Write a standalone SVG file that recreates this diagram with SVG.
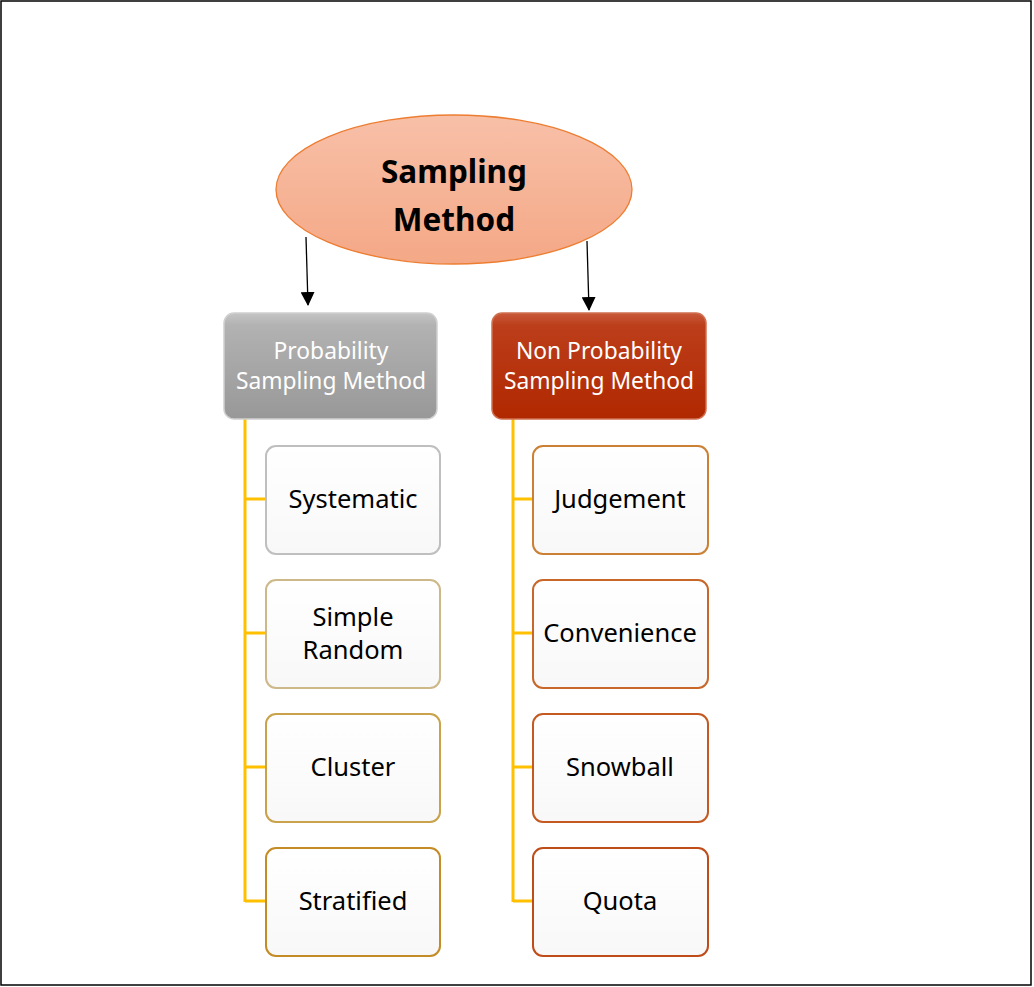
<svg xmlns="http://www.w3.org/2000/svg" width="1034" height="987" viewBox="0 0 1034 987">
<style>
.t{font-family:"Noto Sans","Open Sans","Liberation Sans",sans-serif;text-anchor:middle}
.h{font-size:31.5px;font-weight:bold;fill:#000}
.m{font-size:22.8px;fill:#fff}
.c{font-size:25.5px;fill:#000}
.conn{stroke:#FFC000;stroke-width:3;fill:none}
.arr{stroke:#000;stroke-width:1.3;fill:none}
.child{fill:url(#gW);stroke-width:2}
</style>
<defs>
<linearGradient id="gE" x1="0" y1="0" x2="0" y2="1"><stop offset="0" stop-color="#F8C0A8"/><stop offset="1" stop-color="#F4A886"/></linearGradient>
<linearGradient id="gG" x1="0" y1="0" x2="0" y2="1"><stop offset="0" stop-color="#C4C4C4"/><stop offset="0.12" stop-color="#B2B2B2"/><stop offset="1" stop-color="#989898"/></linearGradient>
<linearGradient id="gR" x1="0" y1="0" x2="0" y2="1"><stop offset="0" stop-color="#C85A3C"/><stop offset="0.12" stop-color="#BC3E1A"/><stop offset="1" stop-color="#B02800"/></linearGradient>
<linearGradient id="gW" x1="0" y1="0" x2="0" y2="1"><stop offset="0" stop-color="#FFFFFF"/><stop offset="1" stop-color="#F8F8F8"/></linearGradient>
<marker id="ah" markerWidth="14" markerHeight="14" refX="13" refY="7" orient="auto" markerUnits="userSpaceOnUse"><path d="M0,0 L14,7 L0,14 Z" fill="#000"/></marker>
</defs>
<rect x="1" y="1" width="1030" height="984" fill="#fff" stroke="#000" stroke-width="1.5"/>
<g id="connectors">
<line class="arr" x1="306" y1="237" x2="308" y2="305" marker-end="url(#ah)"/>
<line class="arr" x1="587" y1="241" x2="589" y2="310" marker-end="url(#ah)"/>
<path class="conn" d="M245,419 V902 M245,499 H266 M245,633 H266 M245,767 H266 M245,901 H266"/>
<path class="conn" d="M513,419 V902 M513,499 H533 M513,633 H533 M513,767 H533 M513,901 H533"/>
</g>
<g id="root">
<ellipse cx="454" cy="189.5" rx="178" ry="74.5" fill="url(#gE)" stroke="#ED7D31" stroke-width="1.3"/>
<text class="t h" x="454" y="183">Sampling</text>
<text class="t h" x="454" y="231">Method</text>
</g>
<g id="prob">
<rect x="224" y="313" width="213" height="106" rx="10" fill="url(#gG)" stroke="#D0D0D0" stroke-width="1.5"/>
<text class="t m" x="331" y="359">Probability</text>
<text class="t m" x="331" y="389">Sampling Method</text>
</g>
<g id="nonprob">
<rect x="492" y="313" width="214" height="106" rx="10" fill="url(#gR)" stroke="#D07050" stroke-width="1.5"/>
<text class="t m" x="599" y="359">Non Probability</text>
<text class="t m" x="599" y="389">Sampling Method</text>
</g>
<g id="systematic">
<rect class="child" x="266" y="446" width="174" height="108" rx="10" stroke="#BFBFBF"/>
<text class="t c" x="353" y="508">Systematic</text>
</g>
<g id="simple-random">
<rect class="child" x="266" y="580" width="174" height="108" rx="10" stroke="#CDB88A"/>
<text class="t c" x="353" y="626">Simple</text>
<text class="t c" x="353" y="659">Random</text>
</g>
<g id="cluster">
<rect class="child" x="266" y="714" width="174" height="108" rx="10" stroke="#C9A24A"/>
<text class="t c" x="353" y="776">Cluster</text>
</g>
<g id="stratified">
<rect class="child" x="266" y="848" width="174" height="108" rx="10" stroke="#C48C26"/>
<text class="t c" x="353" y="910">Stratified</text>
</g>
<g id="judgement">
<rect class="child" x="533" y="446" width="175" height="108" rx="10" stroke="#CC8034"/>
<text class="t c" x="620" y="508">Judgement</text>
</g>
<g id="convenience">
<rect class="child" x="533" y="580" width="175" height="108" rx="10" stroke="#C8672A"/>
<text class="t c" x="620" y="642">Convenience</text>
</g>
<g id="snowball">
<rect class="child" x="533" y="714" width="175" height="108" rx="10" stroke="#C45A22"/>
<text class="t c" x="620" y="776">Snowball</text>
</g>
<g id="quota">
<rect class="child" x="533" y="848" width="175" height="108" rx="10" stroke="#C04C1A"/>
<text class="t c" x="620" y="910">Quota</text>
</g>
</svg>
